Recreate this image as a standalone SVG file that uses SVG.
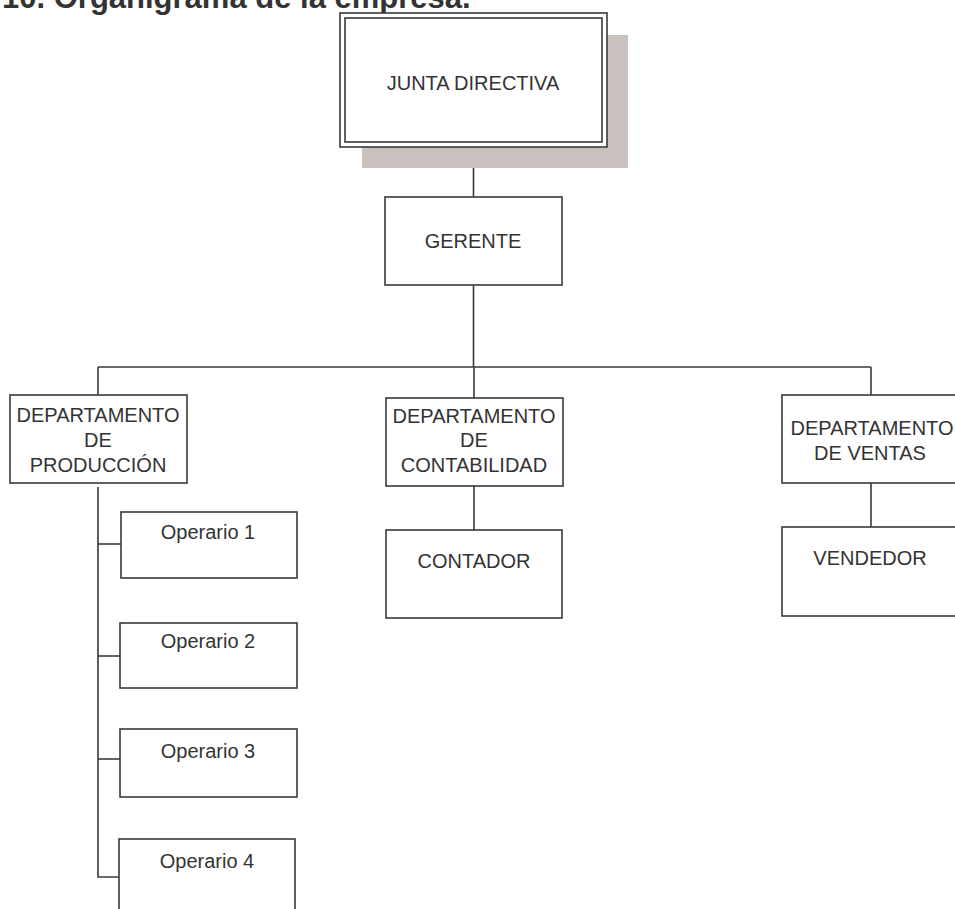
<svg xmlns="http://www.w3.org/2000/svg" width="955" height="909" viewBox="0 0 955 909">
<style>
.box{fill:#fff;stroke:#3a3a3a;stroke-width:1.6}
.t{font-family:"Liberation Sans",Arial,sans-serif;font-size:20px;fill:#333;text-anchor:middle}
.title{font-family:"Liberation Sans",Arial,sans-serif;font-size:31px;font-weight:bold;fill:#333}
.c{fill:none;stroke:#3a3a3a;stroke-width:1.6}
</style>
<rect width="955" height="909" fill="#fff"/>
<text class="title" x="2" y="8">10. Organigrama de la empresa.</text>
<g id="connectors">
<path class="c" d="M473.5 152V197"/>
<path class="c" d="M473.5 285V367"/>
<path class="c" d="M98 367H871"/>
<path class="c" d="M98 367V395"/>
<path class="c" d="M474 367V398"/>
<path class="c" d="M871 367V395"/>
<path class="c" d="M98 487V877H119"/>
<path class="c" d="M98 544H121"/>
<path class="c" d="M98 656H120"/>
<path class="c" d="M98 759H120"/>
<path class="c" d="M474 486V530"/>
<path class="c" d="M871 483V527"/>
</g>
<g id="junta">
<rect x="362" y="35" width="266" height="133" fill="#c9c1bd"/>
<rect class="box" x="340" y="13" width="267" height="134" stroke-width="2"/>
<rect class="box" x="345" y="18" width="257" height="124" stroke-width="2"/>
<text class="t" x="473" y="90">JUNTA DIRECTIVA</text>
</g>
<g id="gerente">
<rect class="box" x="385" y="197" width="177" height="88"/>
<text class="t" x="473" y="248">GERENTE</text>
</g>
<g id="produccion">
<rect class="box" x="10" y="395" width="177" height="88"/>
<text class="t" x="98" y="422">DEPARTAMENTO</text>
<text class="t" x="98" y="447">DE</text>
<text class="t" x="98" y="472">PRODUCCIÓN</text>
</g>
<g id="contabilidad">
<rect class="box" x="386" y="398" width="177" height="88"/>
<text class="t" x="474" y="423">DEPARTAMENTO</text>
<text class="t" x="474" y="447">DE</text>
<text class="t" x="474" y="472">CONTABILIDAD</text>
</g>
<g id="ventas">
<rect class="box" x="782" y="395" width="177" height="88"/>
<text class="t" x="872" y="435">DEPARTAMENTO</text>
<text class="t" x="870" y="460">DE VENTAS</text>
</g>
<g id="op1">
<rect class="box" x="121" y="512" width="176" height="66"/>
<text class="t" x="208" y="539">Operario 1</text>
</g>
<g id="op2">
<rect class="box" x="120" y="623" width="177" height="65"/>
<text class="t" x="208" y="648">Operario 2</text>
</g>
<g id="op3">
<rect class="box" x="120" y="729" width="177" height="68"/>
<text class="t" x="208" y="758">Operario 3</text>
</g>
<g id="op4">
<rect class="box" x="119" y="839" width="176" height="80"/>
<text class="t" x="207" y="868">Operario 4</text>
</g>
<g id="contador">
<rect class="box" x="386" y="530" width="176" height="88"/>
<text class="t" x="474" y="568">CONTADOR</text>
</g>
<g id="vendedor">
<rect class="box" x="782" y="527" width="177" height="89"/>
<text class="t" x="870" y="565">VENDEDOR</text>
</g>
</svg>
